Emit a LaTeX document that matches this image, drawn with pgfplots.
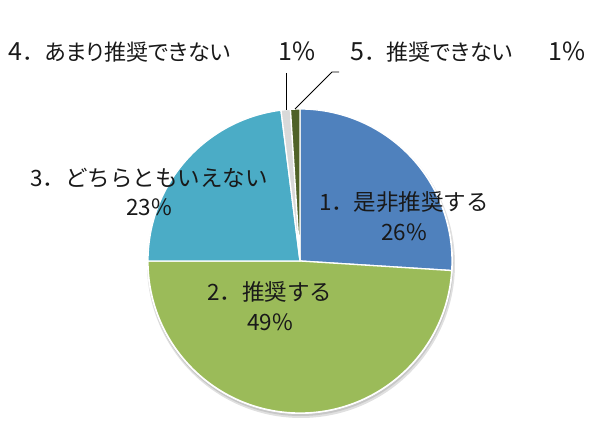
\documentclass[border=0pt]{standalone}
\usepackage{pgfplots}
\pgfplotsset{compat=1.18}
\usepackage{pgfplotstable}
\usepackage{fontspec}
\setmainfont{Noto Sans CJK JP}

\definecolor{sliceA}{HTML}{4F81BD}
\definecolor{sliceB}{HTML}{9BBB59}
\definecolor{sliceC}{HTML}{4BACC6}
\definecolor{sliceD}{HTML}{D9D9D9}
\definecolor{sliceE}{HTML}{4F6228}

% survey shares in percent, clockwise from 12 o'clock
\pgfplotstableread{
share
26
49
23
1
1
}\sharetable

\pgfplotstablegetelem{0}{share}\of\sharetable\let\vA\pgfplotsretval
\pgfplotstablegetelem{1}{share}\of\sharetable\let\vB\pgfplotsretval
\pgfplotstablegetelem{2}{share}\of\sharetable\let\vC\pgfplotsretval
\pgfplotstablegetelem{3}{share}\of\sharetable\let\vD\pgfplotsretval
\pgfplotstablegetelem{4}{share}\of\sharetable\let\vE\pgfplotsretval

% boundary angles of the wedges
\pgfmathsetmacro\aA{90}
\pgfmathsetmacro\aB{\aA-3.6*\vA}
\pgfmathsetmacro\aC{\aB-3.6*\vB}
\pgfmathsetmacro\aD{\aC-3.6*\vC}
\pgfmathsetmacro\aE{\aD-3.6*\vD}
\pgfmathsetmacro\aF{\aE-3.6*\vE}

\newcommand\pieslice[3]{%
  \fill[#1, draw=white, line width=1.3pt, line join=round]
    (axis cs:300,165) -- ++(#2:152pt) arc[start angle=#2, end angle=#3, radius=152pt] -- cycle;}

% outside labels: proportional kana, larger figures
\newcommand\outlabeltext[3]{%
  {\fontsize{25}{24}\selectfont #1}%
  {\fontsize{22}{24}\selectfont ．}%
  {\fontsize{22}{24}\selectfont\addfontfeatures{RawFeature=+palt}#2}%
  \hspace{#3}%
  {\fontsize{25}{24}\selectfont 1\%}}

\tikzset{
  inlabel/.style={align=center, font=\fontsize{22.5}{29.5}\selectfont, text=black!90, inner sep=0pt},
  outlabel/.style={text=black!90, inner sep=0pt},
}

\begin{document}
\begin{tikzpicture}
\begin{axis}[
  scale only axis, width=600pt, height=426pt,
  xmin=0, xmax=600, ymin=0, ymax=426,
  hide axis, clip=false,
]
\path (axis cs:0,0) rectangle (axis cs:600,426);
% soft shadow under the pie
\fill[black!12] (axis cs:301,162) circle[radius=154pt];
\fill[black!22] (axis cs:300.5,163) circle[radius=153pt];
\fill[white] (axis cs:300,165) circle[radius=153pt];
\pieslice{sliceA}{\aA}{\aB}
\pieslice{sliceB}{\aB}{\aC}
\pieslice{sliceC}{\aC}{\aD}
\pieslice{sliceD}{\aD}{\aE}
\pieslice{sliceE}{\aE}{\aF}
% leader lines for the small slices
\draw[black, line width=0.8pt] (axis cs:286,353) -- (axis cs:286,316);
\draw[black, line width=0.8pt] (axis cs:339,354) -- (axis cs:332,354) -- (axis cs:295,317);
% data labels
\node[inlabel] at (axis cs:404,210) {1．是非推奨する\\26\%};
\node[inlabel] at (axis cs:270,120) {2．推奨する\\49\%};
\node[inlabel] at (axis cs:149,234) {3．どちらともいえない\\23\%};
\node[outlabel] at (axis cs:162,374) {\outlabeltext{4}{あまり推奨できない}{48pt}};
\node[outlabel] at (axis cs:468,374) {\outlabeltext{5}{推奨できない}{36pt}};
\end{axis}
\end{tikzpicture}
\end{document}
